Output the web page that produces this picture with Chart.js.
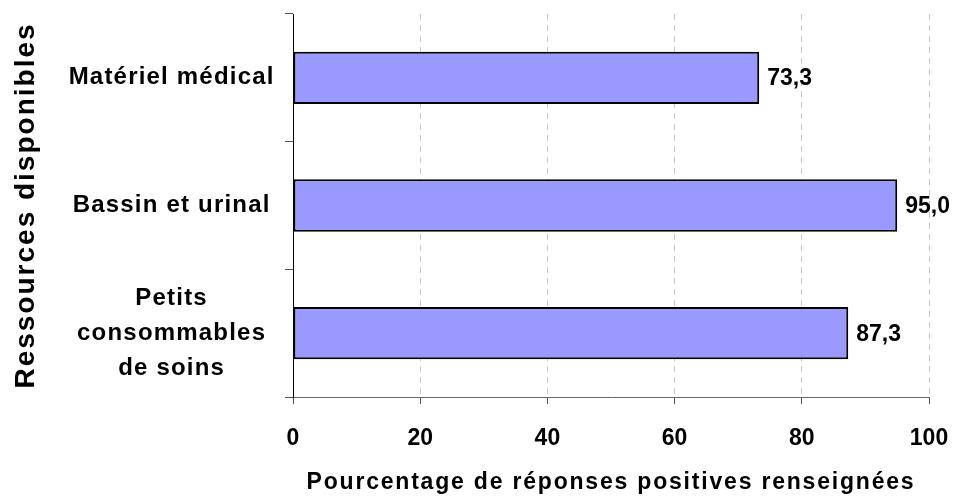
<!DOCTYPE html>
<html>
<head>
<meta charset="utf-8">
<script src="https://cdn.jsdelivr.net/npm/chart.js@4.4.1/dist/chart.umd.min.js"></script>
<style>
  html, body { margin: 0; padding: 0; background: #fff; }
</style>
</head>
<body>
<canvas id="ressources" width="956" height="498"></canvas>
<script>
// categories (top to bottom) and their values
const categories = ['Matériel médical', 'Bassin et urinal', ['Petits', 'consommables', 'de soins']];
const values = [73.3, 95.0, 87.3];
const xMin = 0, xMax = 100, xStep = 20;

const FONT = '"Liberation Sans", Arial, sans-serif';

// wraps a scale draw method so its text gets some letter spacing
function spaced(scale, method, px) {
  const flag = '_sp_' + method;
  if (scale[flag]) return;
  const orig = scale[method];
  scale[method] = function (...args) {
    this.ctx.save();
    this.ctx.letterSpacing = px;
    orig.apply(this, args);
    this.ctx.restore();
  };
  scale[flag] = true;
}

const valueLabels = {
  id: 'valueLabels',
  afterDatasetsDraw(chart) {
    const ctx = chart.ctx;
    const meta = chart.getDatasetMeta(0);
    ctx.save();
    ctx.font = 'bold 23px ' + FONT;
    ctx.fillStyle = '#000';
    ctx.textAlign = 'left';
    ctx.textBaseline = 'middle';
    meta.data.forEach((bar, i) => {
      ctx.fillText(values[i].toFixed(1).replace('.', ','), bar.x + 8, bar.y + 1);
    });
    ctx.restore();
  }
};

const data = {
  labels: categories,
  datasets: [{
    data: values,
    backgroundColor: '#9999FF',
    borderColor: '#000000',
    borderWidth: 2,
    borderSkipped: false,
    categoryPercentage: 1,
    barPercentage: 0.41
  }]
};

const config = {
  type: 'bar',
  data: data,
  options: {
    indexAxis: 'y',
    responsive: false,
    animation: false,
    layout: { padding: { top: 14, right: 27, left: 0, bottom: 0 } },
    plugins: {
      legend: { display: false },
      tooltip: { enabled: false }
    },
    scales: {
      x: {
        min: xMin,
        max: xMax,
        ticks: {
          stepSize: xStep,
          color: '#000',
          padding: 21,
          font: { family: FONT, size: 23, weight: 'bold' }
        },
        grid: {
          color: (c) => c.tick && c.tick.value === 0 ? 'rgba(0,0,0,0)' : '#c8c8c8',
          lineWidth: 1,
          drawTicks: true,
          tickLength: 7,
          tickColor: '#555'
        },
        border: { display: true, color: '#666', width: 1, dash: [6, 5] },
        title: {
          display: true,
          text: 'Pourcentage de réponses positives renseignées',
          color: '#000',
          padding: { top: 0, bottom: 2 },
          font: { family: FONT, size: 23, weight: 'bold' }
        },
        afterFit(scale) {
          scale.height = 101;
          scale.paddingLeft = 0;
          scale.paddingRight = 0;
        },
        afterUpdate(scale) { spaced(scale, 'drawTitle', '1.8px'); }
      },
      y: {
        ticks: {
          color: '#000',
          crossAlign: 'center',
          padding: 20,
          font: { family: FONT, size: 24, weight: 'bold', lineHeight: 1.45 }
        },
        grid: {
          drawOnChartArea: false,
          drawTicks: true,
          tickLength: 8,
          tickColor: '#555'
        },
        border: { display: true, color: '#000', width: 1 },
        title: {
          display: true,
          text: 'Ressources disponibles',
          color: '#000',
          padding: { top: 9, bottom: 0 },
          font: { family: FONT, size: 28, weight: 'bold' }
        },
        afterFit(scale) {
          scale.width = 293;
          scale.paddingTop = 0;
          scale.paddingBottom = 0;
        },
        afterUpdate(scale) {
          spaced(scale, 'drawTitle', '2px');
          spaced(scale, 'drawLabels', '1.2px');
        }
      }
    }
  },
  plugins: [valueLabels]
};

const myChart = new Chart(document.getElementById('ressources'), config);
</script>
</body>
</html>
